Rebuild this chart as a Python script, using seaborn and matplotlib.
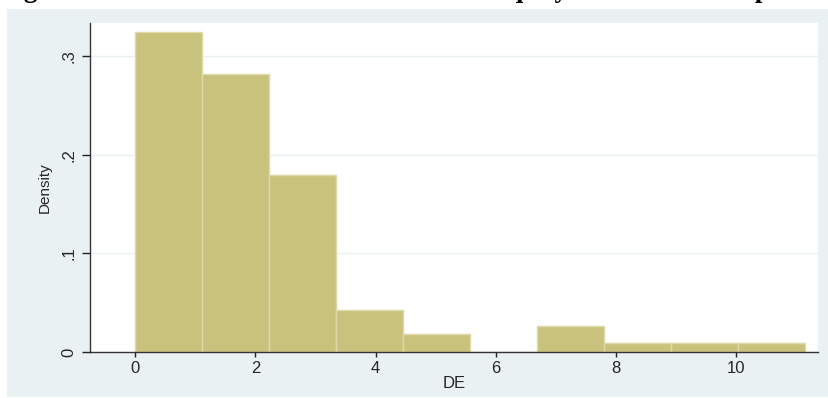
import numpy as np
import pandas as pd
import matplotlib
matplotlib.use("Agg")
import matplotlib.pyplot as plt
from matplotlib.patches import Rectangle
import seaborn as sns

# ---- data ----
bin_edges = [0.0, 1.115, 2.23, 3.345, 4.46, 5.575, 6.69, 7.805, 8.92, 10.035, 11.15]
densities = [0.325, 0.282, 0.180, 0.043, 0.018, 0.0, 0.026, 0.0088, 0.0088, 0.0088]
y_ticks = [0, 0.1, 0.2, 0.3]
y_tick_labels = ["0", ".1", ".2", ".3"]
x_ticks = [0, 2, 4, 6, 8, 10]
x_tick_labels = ["0", "2", "4", "6", "8", "10"]
x_label = "DE"
y_label = "Density"
title_text = "Figure 4.1: Distribution of the total debt to equity ratio of the sample companies"

centers = [(a + b) / 2 for a, b in zip(bin_edges[:-1], bin_edges[1:])]
df = pd.DataFrame({"DE": centers, "density": densities})

sns.set_theme(style="white")
plt.rcParams["font.family"] = ["Liberation Sans", "DejaVu Sans"]

W, H = 829, 398
fig = plt.figure(figsize=(W / 100, H / 100), dpi=100, facecolor="white")

# outer light graph region (Stata-like)
bg = "#EAF1F3"
fig.patches.append(Rectangle((7 / W, 1 / H), (W - 7) / W, (H - 10) / H,
                             transform=fig.transFigure, facecolor=bg,
                             edgecolor="none", zorder=-5))

ax = fig.add_axes([90 / W, 1 - 352 / H, (818 - 90) / W, (352 - 23) / H])
ax.set_zorder(2)
ax.set_facecolor("white")

sns.histplot(data=df, x="DE", weights="density", bins=bin_edges, ax=ax,
             color="#C9C27D", edgecolor="#DEDAA8", linewidth=1.0, alpha=1.0)

ax.set_xlim(-0.75, 11.36)
ax.set_ylim(0, 0.334)

ax.set_axisbelow(True)
ax.yaxis.grid(True, color="#E8F0F2", linewidth=1.0)
ax.xaxis.grid(False)

ax.set_yticks(y_ticks)
ax.set_yticklabels(y_tick_labels, rotation=90, va="center", fontsize=12)
ax.set_xticks(x_ticks)
ax.set_xticklabels(x_tick_labels, fontsize=12)

ax.tick_params(axis="y", direction="out", length=6, width=1, color="#222222",
               pad=4, left=True)
ax.tick_params(axis="x", direction="out", length=3.5, width=1, color="#222222",
               pad=3, bottom=True)

for s in ["top", "right"]:
    ax.spines[s].set_visible(False)
for s in ["left", "bottom"]:
    ax.spines[s].set_color("#333333")
    ax.spines[s].set_linewidth(1.0)

ax.set_xlabel(x_label, fontsize=12, labelpad=0)
ax.set_ylabel(y_label, fontsize=11, labelpad=7)

# clipped title at the very top (only the descenders are visible, as in the reference)
fig.text(0.0, 1 + 2.5 / H, title_text, ha="left", va="baseline",
         fontsize=19.4, fontweight="bold", family=["Liberation Serif", "DejaVu Serif"],
         color="black")

fig.savefig("out.png", dpi=100, facecolor="white")
